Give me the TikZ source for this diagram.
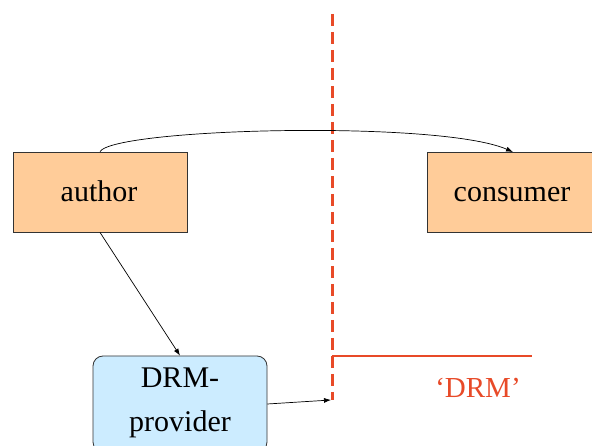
\documentclass[tikz,border=0pt]{standalone}
\usepackage{fontspec}
\setmainfont{Liberation Serif}
\usetikzlibrary{arrows.meta}
\definecolor{boxorange}{HTML}{FFCC99}
\definecolor{boxblue}{HTML}{CCECFF}
\definecolor{drmred}{HTML}{E84A28}
\tikzset{
  orangebox/.style={draw=black!80, line width=0.8pt, fill=boxorange, minimum width=174pt, minimum height=80pt, inner sep=0pt},
  bluebox/.style={draw=black!80, line width=0.8pt, fill=boxblue, rounded corners=10pt, minimum width=174pt, minimum height=96pt, inner sep=0pt},
  bigtext/.style={font=\fontsize{30}{34}\selectfont, anchor=base, inner sep=0pt},
  conn/.style={line width=0.7pt, -{Latex[length=7pt,width=5pt]}},
  redline/.style={drmred, line width=3pt, dash pattern=on 12pt off 6pt},
}
\begin{document}
\begin{tikzpicture}[x=1pt,y=1pt]
\useasboundingbox (0,0) rectangle (592,446);
\clip (0,0) rectangle (592,446);
\fill[white] (0,0) rectangle (592,446);
% boxes (y = 446 - pixel y)
\node[orangebox] (author) at (100,254) {};
\node[orangebox, minimum width=178pt] (consumer) at (516,254) {};
\node[bluebox] (drm) at (180,42) {};
% texts
\node[bigtext] (authort) at (99,244) {author};
\node[bigtext] (consumert) at (512,244) {consumer};
\node[bigtext] (drmt1) at (180,58) {DRM-};
\node[bigtext] (drmt2) at (180,14) {provider};
% red boundary
\coordinate (dtop) at (332,432);
\coordinate (dbot) at (332,46);
\coordinate (hend) at (532,90);
\coordinate (hstart) at (332,90);
\draw[redline] (dtop) -- (dbot);
\draw[drmred, line width=1.2pt] (hstart) -- (hend);
\node[bigtext, drmred, font=\fontsize{29}{32}\selectfont] (drmlabel) at (478,48) {‘DRM’};
% connectors
\coordinate (ctarget) at (513,294);
\draw[conn] (author.north) .. controls (115,318) and (440,326) .. (ctarget);
\draw[conn] (author.south) -- (drm.north);
\coordinate (darrow) at (331,46);
\draw[conn] (drm.east) -- (darrow);
\end{tikzpicture}
\end{document}
